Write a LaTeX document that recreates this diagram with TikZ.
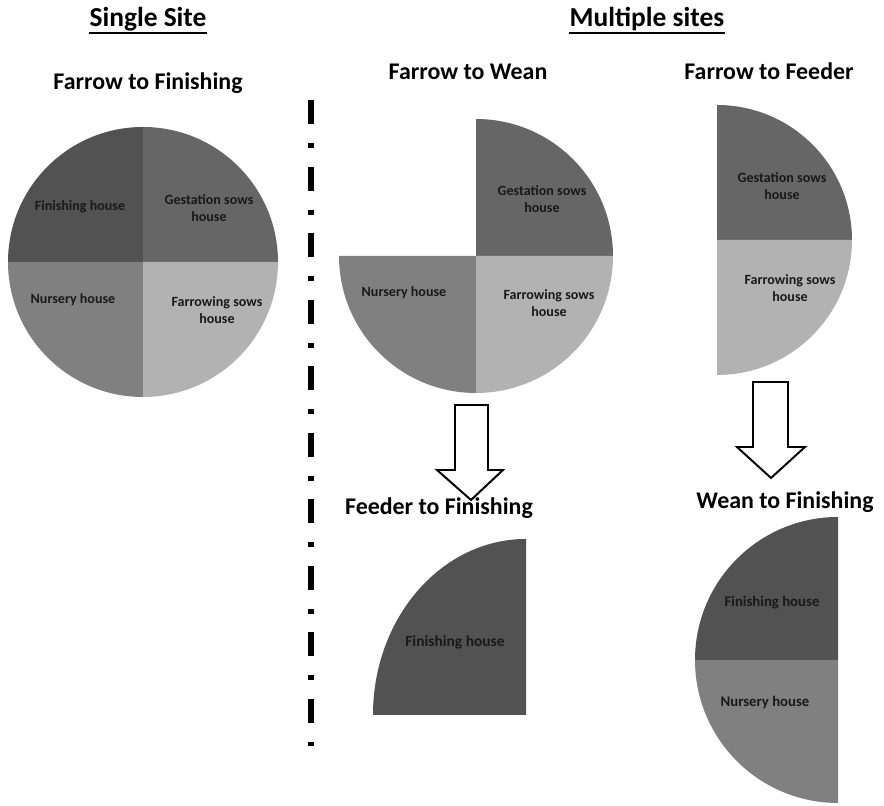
\documentclass[tikz,border=0pt]{standalone}
\usepackage{fontspec}
\setmainfont{Carlito}

\definecolor{finishgray}{gray}{0.32}
\definecolor{gestgray}{gray}{0.40}
\definecolor{nursgray}{gray}{0.50}
\definecolor{farrgray}{gray}{0.70}

\begin{document}
\begin{tikzpicture}[x=0.025cm, y=0.025cm,
    header/.style={font=\bfseries\fontsize{19.5}{22}\selectfont, inner sep=0pt, anchor=base},
    title/.style={font=\bfseries\fontsize{17}{20}\selectfont, inner sep=0pt, anchor=base},
    slicelabel/.style={font=\bfseries\fontsize{10}{12.5}\selectfont, align=center, text=black!90},
    blockarrow/.style={draw=black, fill=white, line width=1.4pt, line join=miter}]
    \useasboundingbox (0,0) rectangle (884,806);

    % headers
    \node[header] (single) at (148,779) {Single Site};
    \node[header] (multi) at (647,779) {Multiple sites};
    \draw[line width=1.5pt] ([yshift=-4pt]single.base west) -- ([yshift=-4pt]single.base east);
    \draw[line width=1.5pt] ([yshift=-4pt]multi.base west) -- ([yshift=-4pt]multi.base east);

    % titles
    \node[title] (fin) at (148,716) {Farrow to Finishing};
    \node[title] (wean) at (468,726) {Farrow to Wean};
    \node[title] (feeder) at (769,726) {Farrow to Feeder};
    \node[title] (feedfin) at (439,291) {Feeder to Finishing};
    \node[title] (weanfin) at (785,297) {Wean to Finishing};

    % single site pie
    \fill[finishgray] (143,544) -- ++(0,135) arc[start angle=90, end angle=180, radius=135] -- cycle;
    \fill[gestgray] (143,544) -- ++(135,0) arc[start angle=0, end angle=90, radius=135] -- cycle;
    \fill[nursgray] (143,544) -- ++(-135,0) arc[start angle=180, end angle=270, radius=135] -- cycle;
    \fill[farrgray] (143,544) -- ++(0,-135) arc[start angle=270, end angle=360, radius=135] -- cycle;
    \node[slicelabel] (s1) at (80,599) {Finishing house};
    \node[slicelabel] (s2) at (209,598) {Gestation sows\\house};
    \node[slicelabel] (s3) at (73,506) {Nursery house};
    \node[slicelabel] (s4) at (217,496) {Farrowing sows\\house};

    % farrow to wean pie
    \fill[gestgray] (476,550) -- ++(137,0) arc[start angle=0, end angle=90, radius=137] -- cycle;
    \fill[nursgray] (476,550) -- ++(-137,0) arc[start angle=180, end angle=270, radius=137] -- cycle;
    \fill[farrgray] (476,550) -- ++(0,-137) arc[start angle=270, end angle=360, radius=137] -- cycle;
    \node[slicelabel] (w1) at (542,607) {Gestation sows\\house};
    \node[slicelabel] (w2) at (404,513) {Nursery house};
    \node[slicelabel] (w3) at (549,503) {Farrowing sows\\house};

    % farrow to feeder half pie
    \fill[gestgray] (717,566) -- ++(135,0) arc[start angle=0, end angle=90, radius=135] -- cycle;
    \fill[farrgray] (717,566) -- ++(0,-135) arc[start angle=270, end angle=360, radius=135] -- cycle;
    \node[slicelabel] (f1) at (782,620) {Gestation sows\\house};
    \node[slicelabel] (f2) at (790,518) {Farrowing sows\\house};

    % feeder to finishing quarter
    \fill[finishgray] (526,91) -- ++(0,176) arc[start angle=90, end angle=180, x radius=153, y radius=176] -- cycle;
    \node[slicelabel, font=\bfseries\fontsize{11}{13}\selectfont] (q1) at (455,164) {Finishing house};

    % wean to finishing half pie
    \fill[finishgray] (838,146) -- ++(0,143) arc[start angle=90, end angle=180, radius=143] -- cycle;
    \fill[nursgray] (838,146) -- ++(-143,0) arc[start angle=180, end angle=270, radius=143] -- cycle;
    \node[slicelabel, font=\bfseries\fontsize{10.5}{12.5}\selectfont] (h1) at (772,203) {Finishing house};
    \node[slicelabel, font=\bfseries\fontsize{10.5}{12.5}\selectfont] (h2) at (765,104) {Nursery house};

    % block arrows
    \draw[blockarrow] (455,401) -- (455,336) -- (437,336) -- (471,306) -- (503,336) -- (488,336) -- (488,401) -- cycle;
    \draw[blockarrow] (753,424) -- (753,359) -- (737,359) -- (771,328) -- (805,359) -- (788,359) -- (788,424) -- cycle;

    % divider
    \draw[line width=0.15cm, dash pattern=on 0.6cm off 0.475cm on 0.125cm off 0.4625cm] (310.5,706) -- (310.5,60);
\end{tikzpicture}
\end{document}
